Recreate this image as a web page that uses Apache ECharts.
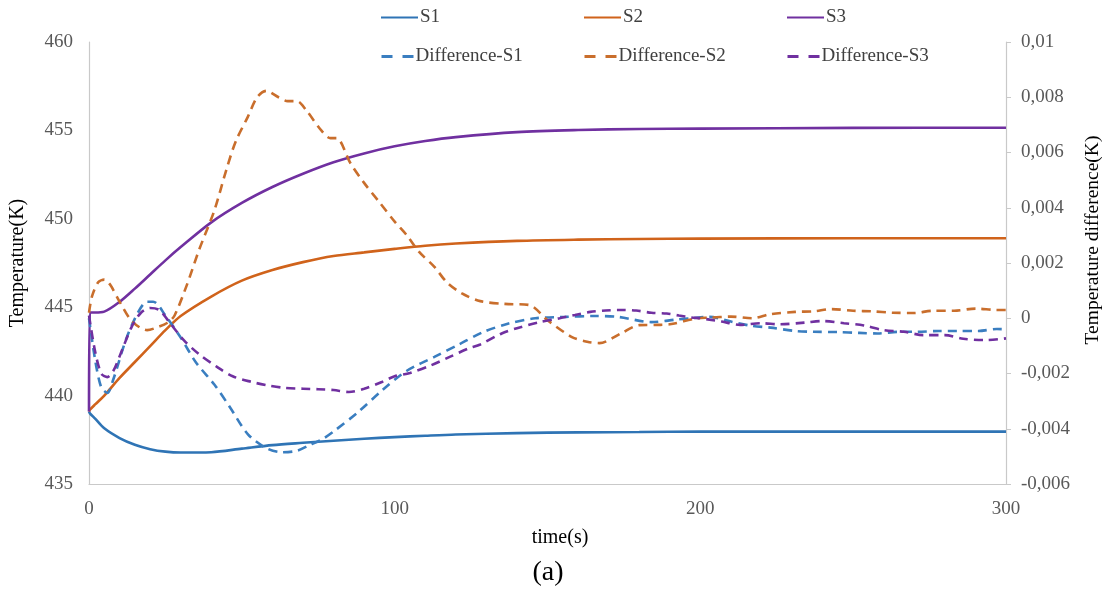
<!DOCTYPE html>
<html>
<head>
<meta charset="utf-8">
<script src="https://cdn.jsdelivr.net/npm/echarts@6/dist/echarts.min.js"></script>
<style>
  html, body { margin: 0; padding: 0; background: #ffffff; }
  #chart { width: 1109px; height: 594px; }
</style>
</head>
<body>
<div id="chart"></div>
<script>
// ---- Data ----
// time axis for the temperature curves (s)
const tempTime = [0, 0.3, 2, 5, 10, 15, 20, 25, 30, 40, 50, 60, 70, 80, 90, 100, 110, 120, 140, 160, 180, 200, 250, 300];
// Temperatures (K)
const s1Temp = [439.1, 439.0, 438.7, 438.15, 437.6, 437.22, 436.97, 436.83, 436.78, 436.8, 437.0, 437.2, 437.33, 437.45, 437.56, 437.65, 437.73, 437.8, 437.88, 437.92, 437.94, 437.96, 437.96, 437.96];
const s2Temp = [439.1, 439.2, 439.5, 440.0, 441.0, 441.9, 442.8, 443.7, 444.5, 445.6, 446.5, 447.1, 447.55, 447.9, 448.1, 448.3, 448.48, 448.6, 448.75, 448.82, 448.86, 448.88, 448.9, 448.9];
const s3Temp = [439.1, 444.7, 444.7, 444.75, 445.3, 446.05, 446.85, 447.65, 448.4, 449.8, 450.9, 451.8, 452.55, 453.2, 453.7, 454.1, 454.4, 454.62, 454.9, 455.02, 455.08, 455.1, 455.14, 455.15];

// Temperature differences (K)
const d1Time = [0, 2, 4, 6, 8, 12, 16, 19, 21, 25, 30, 35, 41, 46, 52, 58, 63, 68, 72, 76, 80, 88, 96, 104, 113, 121, 129, 137, 146, 156, 165, 173, 184, 192, 197, 203, 210, 216.5, 223, 231, 237, 245, 252, 258, 265, 271, 278, 284, 291, 297, 300];
const d1Val = [0.0, -0.0015, -0.0025, -0.0027, -0.0022, -0.0008, 0.0002, 0.0006, 0.0006, 0.0001, -0.0007, -0.0016, -0.0024, -0.0032, -0.0042, -0.0047, -0.00485, -0.0048, -0.0046, -0.0044, -0.0041, -0.0034, -0.0026, -0.0019, -0.0014, -0.00095, -0.0005, -0.0002, 0.0, 0.00005, 0.00008, 0.00005, -0.00014, -0.00005, 0.0, 0.00005, -0.00012, -0.00027, -0.00034, -0.00046, -0.00049, -0.0005, -0.00053, -0.00055, -0.00049, -0.00049, -0.00046, -0.00046, -0.00046, -0.00039, -0.0004];

const d2Time = [0, 1, 3, 5, 7, 10, 14, 19, 23, 26, 28, 32, 36, 41, 45, 48, 52, 55, 58, 62, 65, 68, 71, 76, 79, 81, 85.5, 90, 95, 100, 104, 108, 113, 117, 122, 128, 136, 144, 150, 158, 163, 167, 174, 180, 186, 190, 199, 203, 210, 217, 223, 231, 237, 243, 250, 256, 263, 270, 276, 283, 290, 297, 300];
const d2Val = [0.0002, 0.0008, 0.0013, 0.0014, 0.0012, 0.0006, -0.0001, -0.00043, -0.0003, -0.00014, 0.0001, 0.0012, 0.00247, 0.0039, 0.0054, 0.0064, 0.0073, 0.008, 0.00823, 0.008, 0.00786, 0.00786, 0.00754, 0.0068, 0.00652, 0.00652, 0.00562, 0.0049, 0.0042, 0.0035, 0.003, 0.0024, 0.00186, 0.00131, 0.0009, 0.00062, 0.00052, 0.00048, -0.00007, -0.00068, -0.00085, -0.0009, -0.00055, -0.00025, -0.00024, -0.00022, 0.0, 0.00002, 0.00006, 0.0, 0.00015, 0.00023, 0.00025, 0.00033, 0.00027, 0.00025, 0.0002, 0.00019, 0.00027, 0.00027, 0.00035, 0.0003, 0.0003];

const d3Time = [0, 2, 4, 6, 8, 11, 14, 17, 20, 23, 26, 31, 36, 42, 47, 53, 58, 64, 70, 75, 80, 85, 90, 96, 100, 105, 112, 118, 124, 128, 135, 140, 147, 154, 159, 164, 169, 174, 179, 184, 189, 193, 197, 200, 203, 207, 213, 220, 226, 234, 240, 247, 253.5, 260, 266.6, 273, 280, 286, 293, 300];
const d3Val = [0.0001, -0.0012, -0.002, -0.00213, -0.0019, -0.0011, -0.0003, 0.0002, 0.00037, 0.0003, -0.0001, -0.00079, -0.0013, -0.00177, -0.0021, -0.0023, -0.00242, -0.00252, -0.00255, -0.00257, -0.0026, -0.00267, -0.00255, -0.0023, -0.0021, -0.00198, -0.0017, -0.0014, -0.0011, -0.00095, -0.00055, -0.00036, -0.00015, 0.0, 0.00012, 0.00023, 0.00028, 0.0003, 0.00028, 0.0002, 0.00017, 0.0001, 0.00003, 0.0, -0.00005, -0.00012, -0.00024, -0.00018, -0.00022, -0.00016, -0.0001, -0.00018, -0.00026, -0.00043, -0.00049, -0.00061, -0.00061, -0.00074, -0.00079, -0.00073];

// Axis ticks
const xTicks = [0, 100, 200, 300];
const leftTicks = [435, 440, 445, 450, 455, 460];
const rightTicks = [-0.006, -0.004, -0.002, 0, 0.002, 0.004, 0.006, 0.008, 0.01];

const names = ['S1', 'S2', 'S3', 'Difference-S1', 'Difference-S2', 'Difference-S3'];

// ---- Build ----
const pair = (ts, vs) => ts.map((t, i) => [t, vs[i]]);
const SERIF = '"Liberation Serif", "DejaVu Serif", serif';
const colors = ['#2f74b5', '#d0631b', '#7030a0', '#3a7ec0', '#c96e2c', '#7030a0'];
const dash = [9, 6];

function lineSeries(name, data, color, yIdx, dashed) {
  return {
    name: name, type: 'line', data: data, yAxisIndex: yIdx,
    symbol: 'none', smooth: 0.3, z: dashed ? 3 : 2,
    lineStyle: { color: color, width: 2.6, type: dashed ? dash : 'solid' },
    itemStyle: { color: color },
    emphasis: { disabled: true }
  };
}

const legendPos = [
  { left: 380, top: 6 }, { left: 583, top: 6 }, { left: 786, top: 6 },
  { left: 380, top: 45 }, { left: 583, top: 45 }, { left: 786, top: 45 }
];
const legends = names.map((n, i) => ({
  data: [n], left: legendPos[i].left, top: legendPos[i].top + 2, padding: 0,
  itemWidth: i < 3 ? 37 : 32, itemHeight: 14,
  itemStyle: { opacity: 0, color: 'transparent', borderWidth: 0 },
  lineStyle: i < 3 ? {} : { type: [11, 10], width: 3 },
  textStyle: { fontFamily: SERIF, fontSize: 19, color: '#404040', padding: [0, 0, 0, -3] }
}));

const axisLineStyle = { color: '#c9c9c9', width: 1.2 };

const chart = echarts.init(document.getElementById('chart'), null, { renderer: 'canvas' });
chart.setOption({
  backgroundColor: '#ffffff',
  animation: false,
  legend: legends,
  grid: { left: 89, right: 103, top: 42, bottom: 110, containLabel: false },
  xAxis: {
    type: 'value', min: xTicks[0], max: xTicks[xTicks.length - 1], interval: xTicks[1] - xTicks[0],
    axisLine: { show: true, onZero: false, lineStyle: axisLineStyle },
    axisTick: { show: false },
    splitLine: { show: false },
    axisLabel: { fontFamily: SERIF, fontSize: 19, color: '#595959', margin: 16 }
  },
  yAxis: [
    {
      type: 'value', min: leftTicks[0], max: leftTicks[leftTicks.length - 1], interval: leftTicks[1] - leftTicks[0],
      axisLine: { show: true, onZero: false, lineStyle: axisLineStyle },
      axisTick: { show: false },
      splitLine: { show: false },
      axisLabel: { fontFamily: SERIF, fontSize: 19, color: '#595959', margin: 16 }
    },
    {
      type: 'value', position: 'right',
      min: rightTicks[0], max: rightTicks[rightTicks.length - 1], interval: 0.002,
      axisLine: { show: true, onZero: false, lineStyle: axisLineStyle },
      axisTick: { show: true, length: 5, lineStyle: { color: '#c9c9c9' } },
      splitLine: { show: false },
      axisLabel: {
        fontFamily: SERIF, fontSize: 19, color: '#595959', margin: 15,
        formatter: v => String(+(+v).toFixed(3)).replace('.', ',')
      }
    }
  ],
  graphic: [
    { type: 'text', x: 560, y: 538,
      style: { text: 'time(s)', fontFamily: SERIF, fontSize: 20, fill: '#000000', align: 'center', verticalAlign: 'middle' } },
    { type: 'text', x: 18, y: 263, rotation: Math.PI / 2,
      style: { text: 'Temperature(K)', fontFamily: SERIF, fontSize: 20, fill: '#000000', align: 'center', verticalAlign: 'middle' } },
    { type: 'text', x: 1093, y: 240, rotation: Math.PI / 2,
      style: { text: 'Temperature difference(K)', fontFamily: SERIF, fontSize: 19.5, fill: '#000000', align: 'center', verticalAlign: 'middle' } },
    { type: 'text', x: 548, y: 573,
      style: { text: '(a)', fontFamily: SERIF, fontSize: 28, fill: '#000000', align: 'center', verticalAlign: 'middle' } }
  ],
  series: [
    lineSeries(names[0], pair(tempTime, s1Temp), colors[0], 0, false),
    lineSeries(names[1], pair(tempTime, s2Temp), colors[1], 0, false),
    lineSeries(names[2], pair(tempTime, s3Temp), colors[2], 0, false),
    lineSeries(names[3], pair(d1Time, d1Val), colors[3], 1, true),
    lineSeries(names[4], pair(d2Time, d2Val), colors[4], 1, true),
    lineSeries(names[5], pair(d3Time, d3Val), colors[5], 1, true)
  ]
});
</script>
</body>
</html>
